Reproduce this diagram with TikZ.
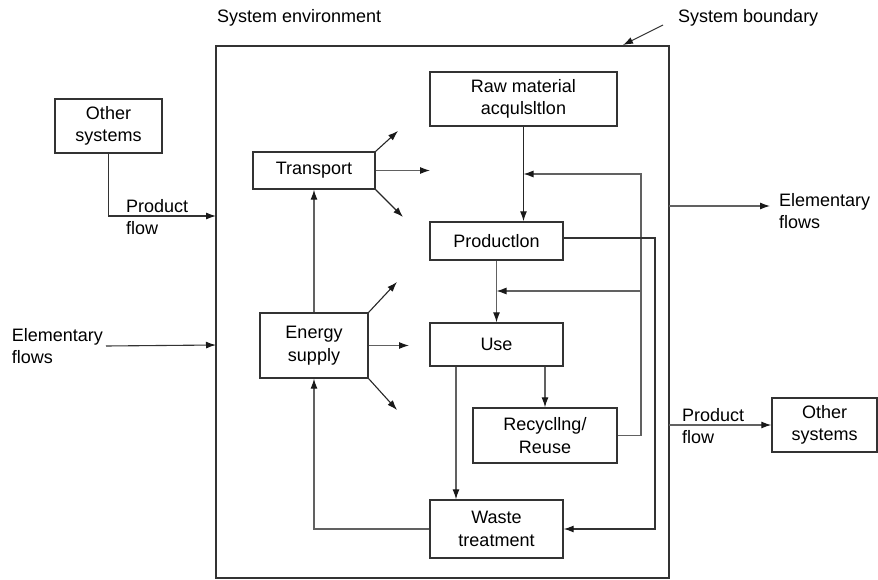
\documentclass[tikz,border=0pt]{standalone}
\usepackage{fontspec}
\setmainfont{Liberation Sans}
\usetikzlibrary{arrows.meta}
\begin{document}
\begin{tikzpicture}[x=1pt,y=-1pt,
  box/.style={draw=black!80,line width=1.4pt,inner sep=0pt,align=center,font=\fontsize{18}{22.5}\selectfont},
  lbl/.style={inner sep=0pt,align=left,font=\fontsize{18}{22.5}\selectfont},
  conn/.style={draw=black!62,line width=1.1pt},
  arr/.style={conn,-{Latex[length=10pt,width=7pt,black!90]}},
  darr/.style={arr,draw=black!85,line width=1.3pt}]
\useasboundingbox (0,0) rectangle (878,580);
% system boundary
\node[draw=black!80,line width=1.4pt,minimum width=453pt,minimum height=532pt,inner sep=0pt] (bnd) at (442.5,312) {};
% boxes
\node[box,minimum width=107pt,minimum height=54pt] (otherL) at (108.5,126) {Other\\systems};
\node[box,minimum width=105pt,minimum height=54pt] (otherR) at (824.5,425) {Other\\systems};
\node[box,minimum width=187pt,minimum height=54pt] (raw) at (523.5,99) {Raw material\\acqulsltlon};
\node[box,minimum width=133pt,minimum height=38pt] (prod) at (496.5,241) {Productlon};
\node[box,minimum width=133pt,minimum height=43pt] (use) at (496.5,344.5) {Use};
\node[box,minimum width=144pt,minimum height=55pt] (recyc) at (545,435.5) {Recycllng/\\Reuse};
\node[box,minimum width=133pt,minimum height=58pt] (waste) at (496.5,529) {Waste\\treatment};
\node[box,minimum width=122pt,minimum height=37pt] (transp) at (314,170.5) {Transport};
\node[box,minimum width=108pt,minimum height=65pt] (energy) at (314,345.5) {Energy\\supply};
% labels
\node[lbl,anchor=west] (envlbl) at (217,18) {System environment};
\node[lbl,anchor=west] (bndlbl) at (678,18) {System boundary};
\node[lbl,anchor=west] (pfL) at (126,217) {Product\\flow};
\node[lbl,anchor=west] (pfR) at (682,426) {Product\\flow};
\node[lbl,anchor=east,inner sep=3pt] (elemL) at (106,346) {Elementary\\flows};
\node[lbl,anchor=west] (elemR) at (779,211) {Elementary\\flows};
% coordinates
\coordinate (bndtip) at (623,45);
\coordinate (bndtail) at (663,25);
\coordinate (inP) at (216,216);
\coordinate (inE) at (216,345);
\coordinate (outE0) at (669,206);
\coordinate (outE1) at (770,206);
\coordinate (outP) at (669,425);
\coordinate (fbx1) at (641,174);
\coordinate (fbx2) at (641,291);
\coordinate (pwx) at (655,238);
\coordinate (t1) at (398,131);
\coordinate (t2) at (430,170.5);
\coordinate (t3) at (403,217);
\coordinate (e1) at (397,282);
\coordinate (e2) at (409,345.5);
\coordinate (e3) at (397,410);
% connectors
\draw[arr,draw=black!80] (bndtail) -- (bndtip);
\draw[arr,draw=black!80] (otherL.south) |- (inP);
\draw[arr,draw=black!80] (elemL.east) -- (inE);
\draw[arr] (outE0) -- (outE1);
\draw[arr] (outP) -- (otherR.west);
\draw[darr] (raw.south) -- (raw.south |- prod.north);
\draw[conn] (recyc.east) -| (fbx2);
\draw[arr] (fbx2) -- (fbx1) -- (raw.south |- fbx1);
\draw[arr] (fbx2) -- (prod.south |- fbx2);
\draw[arr] (prod.south) -- (use.north);
\draw[arr,draw=black!80] (prod.east |- pwx) -- (pwx) |- (waste.east);
\draw[arr] (use.south -| 456,0) -- (waste.north -| 456,0);
\draw[arr] (use.south -| recyc.north) -- (recyc.north);
\draw[arr] (waste.west) -| (energy.south);
\draw[arr] (energy.north) -- (transp.south);
\draw[arr,draw=black!85] (transp.north east) -- (t1);
\draw[arr] (transp.east) -- (t2);
\draw[arr,draw=black!85] (transp.south east) -- (t3);
\draw[arr,draw=black!85] (energy.north east) -- (e1);
\draw[arr] (energy.east) -- (e2);
\draw[arr,draw=black!85] (energy.south east) -- (e3);
\end{tikzpicture}
\end{document}
